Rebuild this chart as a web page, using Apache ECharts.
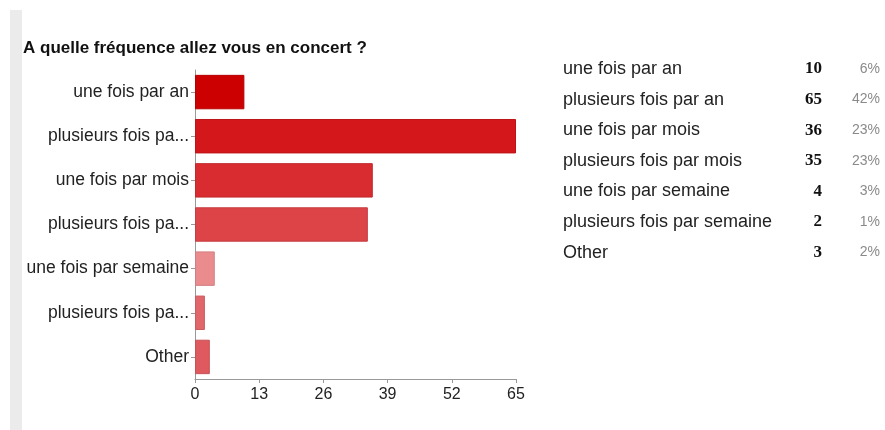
<!DOCTYPE html>
<html>
<head>
<meta charset="utf-8">
<script src="https://cdn.jsdelivr.net/npm/echarts@6/dist/echarts.min.js"></script>
<style>
html,body{margin:0;padding:0;background:#fff;}
#chart{width:885px;height:430px;}
</style>
</head>
<body>
<div id="chart"></div>
<script>
const titleText = 'A quelle fréquence allez vous en concert ?';
const axisLabels = ['une fois par an','plusieurs fois pa...','une fois par mois','plusieurs fois pa...','une fois par semaine','plusieurs fois pa...','Other'];
const tableLabels = ['une fois par an','plusieurs fois par an','une fois par mois','plusieurs fois par mois','une fois par semaine','plusieurs fois par semaine','Other'];
const counts = [10, 65, 36, 35, 4, 2, 3];
const percents = ['6%','42%','23%','23%','3%','1%','2%'];
const barColors = ['#cc0000','#d4171b','#d82c30','#dc4448','#ea8c8e','#e0666a','#de5a5e'];
const borderColors = ['#b80000','#be1418','#c2272b','#c63d41','#d27e80','#ca5c5f','#c85155'];
const xTicks = [0, 13, 26, 39, 52, 65];

const chart = echarts.init(document.getElementById('chart'));

const graphics = [
  {type:'rect', left:10, top:10, shape:{width:12, height:420}, style:{fill:'#ebebeb'}, silent:true},
  {type:'text', x:23, y:48, style:{text:titleText, font:'bold 17px "Liberation Sans", Arial, sans-serif', fill:'#111', textVerticalAlign:'middle'}}
];
const rowY0 = 69, rowStep = 30.6;
tableLabels.forEach((t, i) => {
  const y = rowY0 + i * rowStep;
  graphics.push({type:'text', x:563, y:y, style:{text:t, font:'18px "Liberation Sans", Arial, sans-serif', fill:'#222', textVerticalAlign:'middle', textAlign:'left'}});
  graphics.push({type:'text', x:822, y:y, style:{text:String(counts[i]), font:'bold 17px "Liberation Serif", "Times New Roman", serif', fill:'#111', textVerticalAlign:'middle', textAlign:'right'}});
  graphics.push({type:'text', x:880, y:y, style:{text:percents[i], font:'14px "Liberation Sans", Arial, sans-serif', fill:'#8a8a8a', textVerticalAlign:'middle', textAlign:'right'}});
});

chart.setOption({
  animation:false,
  backgroundColor:'#fff',
  grid:{left:195, right:369, top:70, bottom:51, containLabel:false},
  xAxis:{
    type:'value', min:0, max:65, interval:13,
    axisLine:{show:true, lineStyle:{color:'#999'}},
    axisTick:{show:true, length:4, lineStyle:{color:'#999'}},
    splitLine:{show:false},
    axisLabel:{color:'#222', fontSize:16, fontFamily:'"Liberation Sans", Arial, sans-serif', margin:8,
      formatter:v => xTicks.includes(v) ? String(v) : ''}
  },
  yAxis:{
    type:'category', inverse:true, data:axisLabels,
    axisLine:{show:true, lineStyle:{color:'#999'}},
    axisTick:{show:true, alignWithLabel:true, length:4, lineStyle:{color:'#999'}},
    axisLabel:{color:'#222', fontSize:17.5, fontFamily:'"Liberation Sans", Arial, sans-serif', margin:6}
  },
  series:[{
    type:'bar', barCategoryGap:'22%',
    data:counts.map((v, i) => ({value:v, itemStyle:{color:barColors[i], borderColor:borderColors[i], borderWidth:1}}))
  }],
  graphic:graphics
});
</script>
</body>
</html>
